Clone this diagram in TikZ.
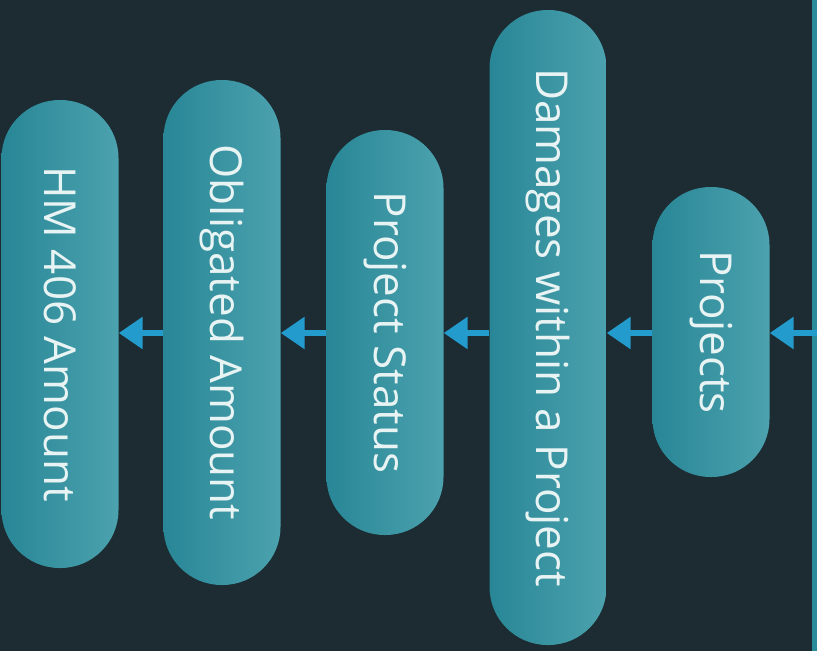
\documentclass[tikz,border=0pt]{standalone}
\usepackage{fontspec}
\setmainfont{Open Sans}
\usetikzlibrary{arrows.meta}
\definecolor{bg}{RGB}{28,44,50}
\definecolor{pillL}{RGB}{40,134,150}
\definecolor{pillR}{RGB}{76,162,174}
\definecolor{arrowc}{RGB}{36,155,205}
\definecolor{txt}{RGB}{232,243,243}
\definecolor{edge}{RGB}{42,140,155}
\begin{document}
\begin{tikzpicture}[x=1pt,y=-1pt,
  pill/.style={rotate=-90, rectangle, rounded corners=58pt, minimum height=117pt,
    inner sep=0pt, left color=pillL, right color=pillR,
    text=txt, font=\fontsize{44}{52}\selectfont},
  flow/.style={draw=arrowc, line width=6pt, -{Triangle[length=24pt,width=31pt]}}]
\useasboundingbox (0,0) rectangle (817,651);
\fill[bg] (0,0) rectangle (817,651);
\fill[edge] (812,0) rectangle (817,651);
\coordinate (ay) at (0,333);
\coordinate (src) at (817,333);
\node[pill, minimum width=468pt] (hm) at (60,334) {HM 406 Amount};
\node[pill, minimum width=505pt] (obl) at (222,332.5) {Obligated Amount};
\node[pill, minimum width=405pt] (st) at (385,332.5) {Project Status};
\node[pill, minimum width=635pt] (dm) at (548,327.5) {Damages within a Project};
\node[pill, minimum width=290pt] (pr) at (711,332) {Projects};
\draw[flow] (src) -- (pr.north |- ay);
\draw[flow] (pr.south |- ay) -- (dm.north |- ay);
\draw[flow] (dm.south |- ay) -- (st.north |- ay);
\draw[flow] (st.south |- ay) -- (obl.north |- ay);
\draw[flow] (obl.south |- ay) -- (hm.north |- ay);
\end{tikzpicture}
\end{document}
